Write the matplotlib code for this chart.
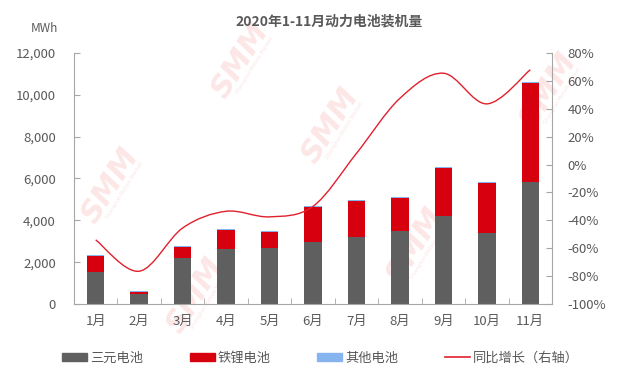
import matplotlib
matplotlib.use('Agg')
import matplotlib.pyplot as plt
from matplotlib.path import Path
from matplotlib.patches import PathPatch, Patch
from matplotlib.lines import Line2D
from matplotlib.ticker import FuncFormatter

plt.rcParams['font.family'] = ['Noto Sans CJK SC', 'DejaVu Sans']

months = ['1月', '2月', '3月', '4月', '5月', '6月', '7月', '8月', '9月', '10月', '11月']
ternary = [1530, 490, 2215, 2630, 2695, 2980, 3205, 3495, 4225, 3400, 5840]
lfp = [765, 100, 510, 910, 750, 1660, 1720, 1590, 2295, 2390, 4735]
other = [45, 15, 50, 50, 45, 50, 50, 50, 40, 50, 50]
yoy = [-54, -76.5, -45.5, -33.5, -37.5, -30, 8, 47.5, 65.5, 43.5, 68]

text_c = '#595959'
spine_c = '#A6A6A6'

fig = plt.figure(figsize=(6.35, 3.89), dpi=100)
ax = fig.add_axes([0.1165, 0.2185, 0.7528, 0.6453])
ax.set_facecolor('none')

# faint SMM watermarks, drawn behind the chart
marks = [(240, 60), (110, 185), (330, 125), (548, 90), (195, 295), (415, 245)]
for mx, my in marks:
    fig.text(mx / 635, 1 - my / 389, 'SMM', fontsize=22, fontweight='bold',
             fontstyle='italic', color='#FCE6E6', rotation=58,
             ha='center', va='center', zorder=-1, family='DejaVu Sans')
    fig.text((mx + 14) / 635, 1 - (my + 6) / 389, 'Shanghai Metals Market',
             fontsize=4, color='#FCE6E6', rotation=58,
             ha='center', va='center', zorder=-1, family='DejaVu Sans')

x = list(range(len(months)))
w = 0.4
base2 = [a + b for a, b in zip(ternary, lfp)]
ax.bar(x, ternary, width=w, color='#5F5F5F', zorder=2)
ax.bar(x, lfp, width=w, bottom=ternary, color='#D7000F', zorder=2)
ax.bar(x, other, width=w, bottom=base2, color='#85B4EE', zorder=2)

ax.set_xlim(-0.5, len(months) - 0.5)
ax.set_ylim(0, 12000)
ax.set_yticks(range(0, 12001, 2000))
ax.yaxis.set_major_formatter(FuncFormatter(lambda v, p: f'{v:,.0f}'))
ax.set_xticks(x)
ax.set_xticklabels(months)
ax.set_xticks([i + 0.5 for i in x[:-1]], minor=True)
ax.tick_params(axis='x', which='major', length=0, pad=8, labelsize=9.5, labelcolor=text_c)
ax.tick_params(axis='x', which='minor', direction='in', length=4, color=spine_c)
ax.tick_params(axis='y', direction='in', length=4, color=spine_c, pad=13,
               labelsize=9.5, labelcolor=text_c)
for s in ['top', 'right']:
    ax.spines[s].set_visible(False)
for s in ['left', 'bottom']:
    ax.spines[s].set_color(spine_c)

ax2 = ax.twinx()
ax2.set_ylim(-100, 80)
ax2.set_yticks(range(-100, 81, 20))
ax2.yaxis.set_major_formatter(FuncFormatter(lambda v, p: f'{v:.0f}%'))
ax2.tick_params(axis='y', direction='in', length=4, color=spine_c, pad=11,
                labelsize=9.5, labelcolor=text_c)
for s in ['top', 'left', 'bottom']:
    ax2.spines[s].set_visible(False)
ax2.spines['right'].set_color(spine_c)

# smooth curve through the YoY points (cubic Bezier segments)
pts = list(zip(x, yoy))
verts = [pts[0]]
codes = [Path.MOVETO]
n = len(pts)
for i in range(n - 1):
    p0 = pts[max(i - 1, 0)]
    p1 = pts[i]
    p2 = pts[i + 1]
    p3 = pts[min(i + 2, n - 1)]
    c1 = (p1[0] + (p2[0] - p0[0]) / 6, p1[1] + (p2[1] - p0[1]) / 6)
    c2 = (p2[0] - (p3[0] - p1[0]) / 6, p2[1] - (p3[1] - p1[1]) / 6)
    verts += [c1, c2, p2]
    codes += [Path.CURVE4] * 3
ax2.add_patch(PathPatch(Path(verts, codes), facecolor='none',
                        edgecolor='#E0202C', lw=1.0, zorder=3))

fig.text(329 / 635, 1 - 21 / 389, '2020年1-11月动力电池装机量', ha='center', va='center',
         fontsize=10, fontweight='bold', color=text_c)
fig.text(44 / 635, 1 - 28 / 389, 'MWh', ha='center', va='center',
         fontsize=8.5, color=text_c)

handles = [Patch(color='#5F5F5F'), Patch(color='#D7000F'), Patch(color='#85B4EE'),
           Line2D([], [], color='#E0202C', lw=1.2)]
labels = ['三元电池', '铁锂电池', '其他电池', '同比增长（右轴）']
leg = fig.legend(handles, labels, loc='center', bbox_to_anchor=(0.505, 1 - 358 / 389),
                 ncol=4, frameon=False, fontsize=9.5, handlelength=1.9,
                 handleheight=0.55, handletextpad=0.25, columnspacing=3.5)
for t in leg.get_texts():
    t.set_color(text_c)

fig.savefig('out.png', dpi=100)
